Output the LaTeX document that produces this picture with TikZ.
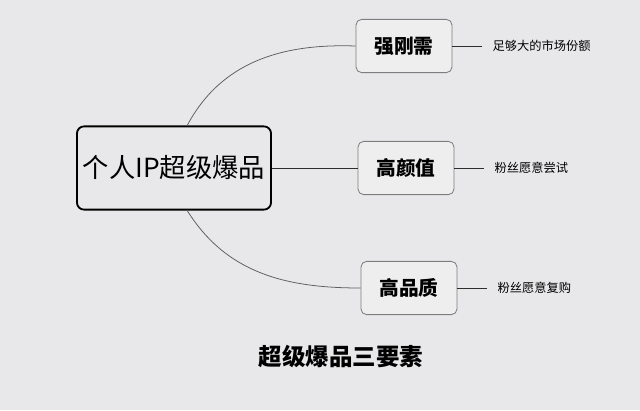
\documentclass[tikz,border=0pt]{standalone}
\usepackage{fontspec}
\setmainfont{Noto Sans CJK SC}
\usetikzlibrary{positioning}

\definecolor{paper}{RGB}{232,232,234}
\definecolor{boxfill}{RGB}{238,238,239}
\definecolor{rimgray}{RGB}{125,125,125}
\definecolor{inkline}{RGB}{45,45,45}
\definecolor{branchgray}{RGB}{95,95,95}

\begin{document}
\begin{tikzpicture}[
  x=0.025cm, y=-0.025cm,
  node distance=1.0cm,
  rootbox/.style={rectangle, rounded corners=5pt, draw=black, line width=1.3pt,
                  fill=paper, minimum width=4.85cm, minimum height=2.08cm,
                  inner sep=0pt, font=\fontsize{18.7}{22}\selectfont},
  itembox/.style={rectangle, rounded corners=4pt, draw=rimgray, line width=0.6pt,
                  fill=boxfill, minimum width=2.4cm, minimum height=1.33cm,
                  inner sep=0pt, font=\fontsize{14}{17}\selectfont\bfseries},
  leaf/.style={inner sep=0pt, inner xsep=0.25cm, anchor=west,
               font=\fontsize{8.7}{11}\selectfont},
  link/.style={draw=inkline, line width=0.7pt},
  branch/.style={draw=branchgray, line width=0.55pt}
]
% paper background fixes the page size
\fill[paper] (0,0) rectangle (640,410);

\node[rootbox] (root) at (174,168) {个人IP超级爆品};

\node[itembox] (need)  at (404,46)  {强刚需};
\node[itembox] (look)  at (406,168) {高颜值};
\node[itembox] (build) at (409,288) {高品质};

\node[leaf, right=0.75cm of need.east]  (needtxt)  {足够大的市场份额};
\node[leaf, right=0.75cm of look.east]  (looktxt)  {粉丝愿意尝试};
\node[leaf, right=0.75cm of build.east] (buildtxt) {粉丝愿意复购};

\node[font=\fontsize{16.7}{20}\selectfont\bfseries] (caption) at (341,356) {超级爆品三要素};

% branches
\draw[branch] ([xshift=0.33cm]root.north) to[out=62, in=178] (need.west);
\draw[link] (root.east) -- (look.west);
\draw[branch] ([xshift=0.33cm]root.south) to[out=-58, in=180] (build.west);

\draw[link] (need.east)  -- (needtxt.west);
\draw[link] (look.east)  -- (looktxt.west);
\draw[link] (build.east) -- (buildtxt.west);

\end{tikzpicture}
\end{document}
